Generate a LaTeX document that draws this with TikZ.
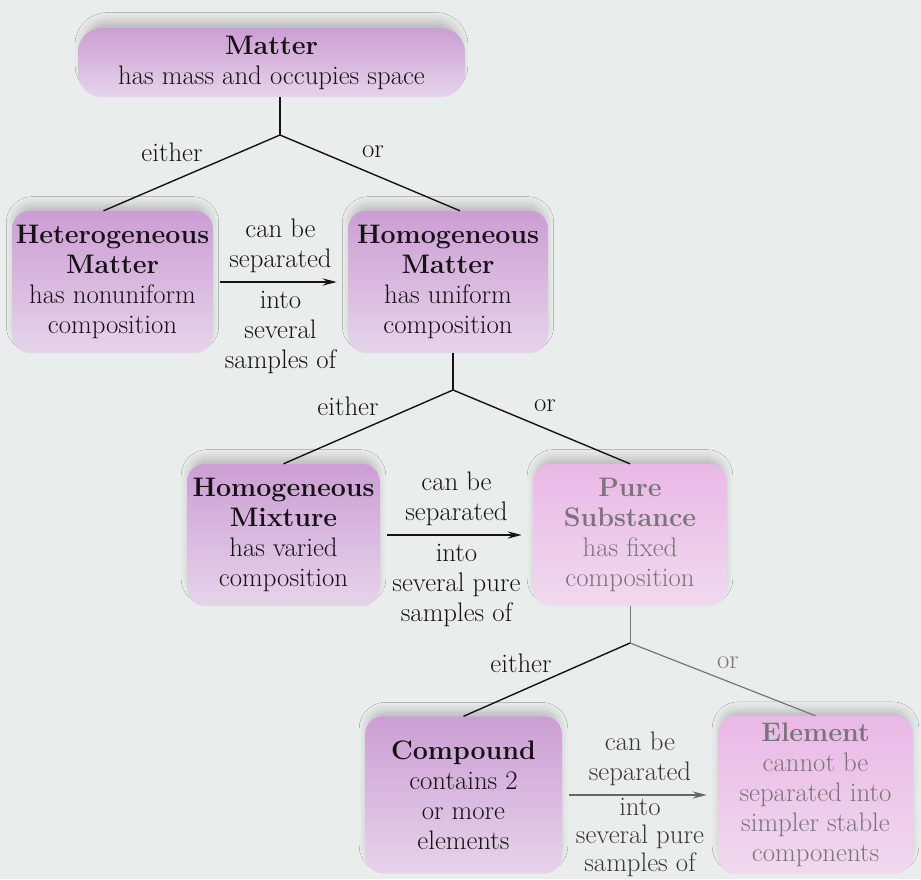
\documentclass[tikz,border=0pt]{standalone}
\usetikzlibrary{arrows.meta, shadows.blur}

\definecolor{bgcol}{RGB}{233,237,235}
\definecolor{boxtop}{RGB}{204,158,212}
\definecolor{boxbot}{RGB}{230,212,234}
\definecolor{paletop}{RGB}{234,184,230}
\definecolor{palebot}{RGB}{240,218,238}
\definecolor{inkcol}{RGB}{22,18,22}
\definecolor{fadecol}{RGB}{122,116,122}

\begin{document}
\begin{tikzpicture}[x=1pt, y=-1pt,
    txt/.style={font=\fontsize{26.8}{30}\selectfont, text=inkcol, align=center},
    card/.style={txt, rounded corners=18pt, inner sep=0pt, top color=boxtop, bottom color=boxbot,
        blur shadow={shadow xshift=0pt, shadow yshift=8pt, shadow scale=0.97,
            shadow blur radius=9pt, shadow opacity=22}},
    pale/.style={card, top color=paletop, bottom color=palebot, text=fadecol},
    branch/.style={draw=inkcol, line width=1.4pt},
    sepline/.style={draw=inkcol, line width=2.4pt, -{Stealth[length=14pt, width=7pt]},
        shorten <=7pt, shorten >=11pt},
    lbl/.style={txt, inner sep=8pt}]
    \fill[bgcol, use as bounding box] (0,0) rectangle (921,879);

    % Nodes
    \node (matter) [card, rounded corners=24pt, minimum width=387pt, minimum height=69pt] at (271.5,62.5)
        {\textbf{Matter}\\has mass and occupies space};
    \node (hetm) [card, minimum width=201pt, minimum height=142pt] at (112.5,282)
        {\textbf{Heterogeneous}\\\textbf{Matter}\\has nonuniform\\composition};
    \node (homm) [card, minimum width=200pt, minimum height=142pt] at (448,282)
        {\textbf{Homogeneous}\\\textbf{Matter}\\has uniform\\composition};
    \node (homx) [card, minimum width=193pt, minimum height=142pt] at (283.5,535)
        {\textbf{Homogeneous}\\\textbf{Mixture}\\has varied\\composition};
    \node (pure) [pale, minimum width=194pt, minimum height=142pt] at (630,535)
        {\textbf{Pure}\\\textbf{Substance}\\has fixed\\composition};
    \node (comp) [card, minimum width=197pt, minimum height=157pt] at (463.5,795)
        {\textbf{Compound}\\contains 2\\or more\\elements};
    \node (elem) [pale, minimum width=195pt, minimum height=158pt] at (815.5,795)
        {\textbf{Element}\\cannot be\\separated into\\simpler stable\\components};

    % Junctions
    \coordinate (j1) at (280,135);
    \coordinate (j2) at (453,390);
    \coordinate (j3) at (630,643);

    % Edges
    \draw[branch] (matter.south -| j1) -- (j1);
    \draw[branch] (j1) -- ([xshift=-9pt]hetm.north);
    \draw[branch] (j1) -- ([xshift=12pt]homm.north);
    \draw[branch] (homm.south -| j2) -- (j2);
    \draw[branch] (j2) -- (homx.north);
    \draw[branch] (j2) -- (pure.north);
    \draw[branch, draw=fadecol, line width=1pt] (pure.south) -- (j3);
    \draw[branch] (j3) -- (comp.north);
    \draw[branch, draw=fadecol, line width=1.2pt] (j3) -- (elem.north);

    \draw[sepline] (hetm.east) -- node[lbl, above] {can be\\separated}
        node[lbl, below] {into\\several\\samples of} (homm.west);
    \draw[sepline] (homx.east) -- node[lbl, above] {can be\\separated}
        node[lbl, below] {into\\several pure\\samples of} (pure.west);
    \draw[sepline, draw=inkcol!65] (comp.east) -- node[lbl, above, text=inkcol!85] {can be\\separated}
        node[lbl, below, inner sep=2pt, text=inkcol!85, font=\fontsize{26.8}{28}\selectfont]
        {into\\several pure\\samples of} (elem.west);

    % Labels
    \node (e1) [txt] at (172,152) {either};
    \node (o1) [txt] at (373,152) {or};
    \node (e2) [txt] at (348,406) {either};
    \node (o2) [txt] at (545,406) {or};
    \node (e3) [txt] at (521,663) {either};
    \node (o3) [txt, text=fadecol] at (728,663) {or};
\end{tikzpicture}
\end{document}
